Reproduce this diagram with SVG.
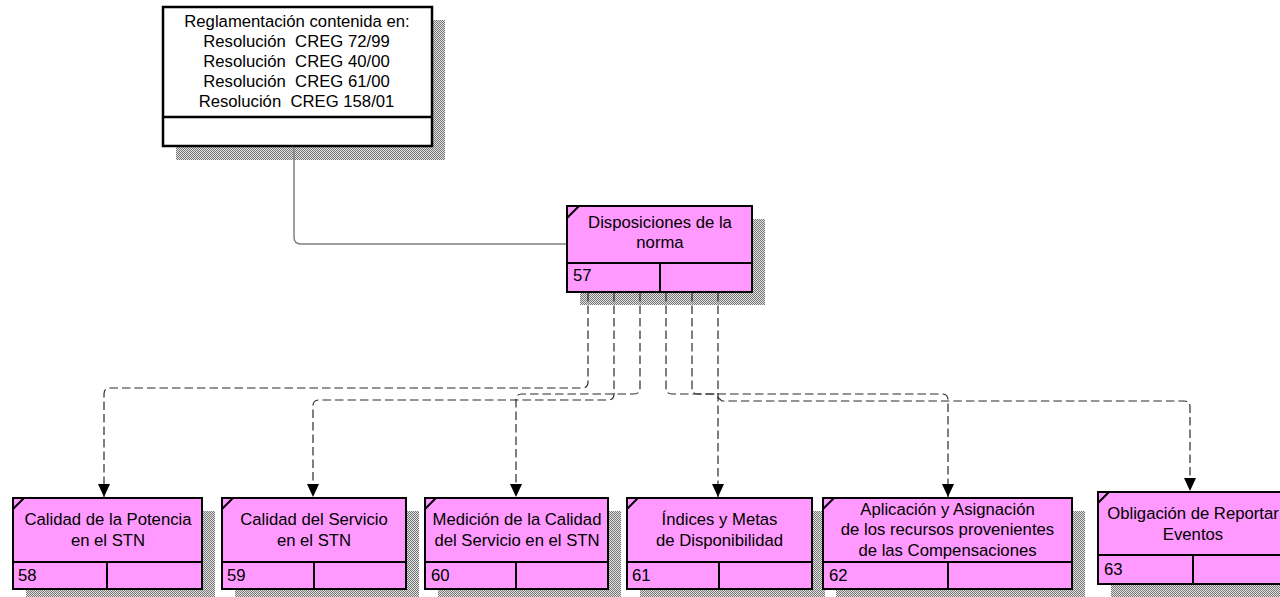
<svg xmlns="http://www.w3.org/2000/svg" width="1280" height="597" viewBox="0 0 1280 597">
<defs>
<pattern id="sh" width="2" height="2" patternUnits="userSpaceOnUse">
<rect width="2" height="2" fill="#e0e0e0"/>
<rect width="1" height="1" fill="#787878"/>
<rect x="1" y="1" width="1" height="1" fill="#787878"/>
</pattern>
<marker id="ah" viewBox="0 0 13 12" markerWidth="13" markerHeight="12" refX="13" refY="6" orient="auto" markerUnits="userSpaceOnUse">
<path d="M0,0 L13,6 L0,12 z" fill="#000"/>
</marker>
</defs>
<style>
.shadow{fill:url(#sh)}
.box{fill:#FF99FF;stroke:#000;stroke-width:2}
.wbox{fill:#fff;stroke:#000;stroke-width:2.5}
.ln{stroke:#000;stroke-width:2;fill:none}
.t{font-family:"Liberation Sans",Arial,sans-serif;font-size:16.7px;fill:#000;text-anchor:middle;white-space:pre}
.n{font-family:"Liberation Sans",Arial,sans-serif;font-size:16.7px;fill:#000}
.dash{fill:none;stroke:#2a2a2a;stroke-width:1.2;stroke-dasharray:8.5 4;marker-end:url(#ah)}
.solid{fill:none;stroke:#808080;stroke-width:1.5}
</style>

<g id="node-reglamentacion">
<rect class="shadow" x="176" y="20" width="269" height="140"/>
<rect class="wbox" x="163" y="7" width="269" height="139"/>
<line class="ln" x1="163" y1="117" x2="432" y2="117" style="stroke-width:2.5"/>
<text class="t" x="297" y="27">Reglamentación contenida en:</text>
<text class="t" x="296.5" y="47">Resolución  CREG 72/99</text>
<text class="t" x="296.5" y="67">Resolución  CREG 40/00</text>
<text class="t" x="296.5" y="87">Resolución  CREG 61/00</text>
<text class="t" x="296.5" y="107">Resolución  CREG 158/01</text>
</g>

<g id="node-57">
<rect class="shadow" x="580" y="219" width="185" height="86"/>
<rect class="box" x="567" y="206" width="185" height="86"/>
<line class="ln" x1="567" y1="263" x2="752" y2="263"/>
<line class="ln" x1="660" y1="263" x2="660" y2="292"/>
<line class="ln" x1="567" y1="218" x2="579" y2="206"/>
<text class="t" x="660" y="228">Disposiciones de la</text>
<text class="t" x="660" y="248">norma</text>
<text class="n" x="573" y="281">57</text>
</g>

<g id="node-58">
<rect class="shadow" x="26" y="511" width="189" height="91"/>
<rect class="box" x="13" y="498" width="189" height="91"/>
<line class="ln" x1="13" y1="562" x2="202" y2="562"/>
<line class="ln" x1="107" y1="562" x2="107" y2="589"/>
<line class="ln" x1="13" y1="509" x2="24" y2="498"/>
<text class="t" x="108" y="525">Calidad de la Potencia</text>
<text class="t" x="108" y="546">en el STN</text>
<text class="n" x="18" y="581">58</text>
</g>

<g id="node-59">
<rect class="shadow" x="235" y="511" width="184" height="91"/>
<rect class="box" x="222" y="498" width="184" height="91"/>
<line class="ln" x1="222" y1="562" x2="406" y2="562"/>
<line class="ln" x1="314" y1="562" x2="314" y2="589"/>
<line class="ln" x1="222" y1="509" x2="233" y2="498"/>
<text class="t" x="314" y="525">Calidad del Servicio</text>
<text class="t" x="314" y="546">en el STN</text>
<text class="n" x="227" y="581">59</text>
</g>

<g id="node-60">
<rect class="shadow" x="438" y="511" width="183" height="91"/>
<rect class="box" x="425" y="498" width="183" height="91"/>
<line class="ln" x1="425" y1="562" x2="608" y2="562"/>
<line class="ln" x1="516" y1="562" x2="516" y2="589"/>
<line class="ln" x1="425" y1="509" x2="436" y2="498"/>
<text class="t" x="517" y="525">Medición de la Calidad</text>
<text class="t" x="517" y="546">del Servicio en el STN</text>
<text class="n" x="431" y="581">60</text>
</g>

<g id="node-61">
<rect class="shadow" x="640" y="511" width="185" height="91"/>
<rect class="box" x="627" y="498" width="185" height="91"/>
<line class="ln" x1="627" y1="562" x2="812" y2="562"/>
<line class="ln" x1="719" y1="562" x2="719" y2="589"/>
<line class="ln" x1="627" y1="509" x2="638" y2="498"/>
<text class="t" x="719.5" y="525">Índices y Metas</text>
<text class="t" x="719.5" y="546">de Disponibilidad</text>
<text class="n" x="632" y="581">61</text>
</g>

<g id="node-62">
<rect class="shadow" x="836" y="511" width="249" height="91"/>
<rect class="box" x="823" y="498" width="249" height="91"/>
<line class="ln" x1="823" y1="562" x2="1072" y2="562"/>
<line class="ln" x1="948" y1="562" x2="948" y2="589"/>
<line class="ln" x1="823" y1="509" x2="834" y2="498"/>
<text class="t" x="947.5" y="515">Aplicación y Asignación</text>
<text class="t" x="947.5" y="535">de los recursos provenientes</text>
<text class="t" x="947.5" y="556">de las Compensaciones</text>
<text class="n" x="829" y="581">62</text>
</g>

<g id="node-63">
<rect class="shadow" x="1111" y="505" width="190" height="92"/>
<rect class="box" x="1098" y="492" width="190" height="92"/>
<line class="ln" x1="1098" y1="555" x2="1288" y2="555"/>
<line class="ln" x1="1193" y1="555" x2="1193" y2="584"/>
<line class="ln" x1="1098" y1="503" x2="1109" y2="492"/>
<text class="t" x="1193" y="519">Obligación de Reportar</text>
<text class="t" x="1193" y="540">Eventos</text>
<text class="n" x="1104" y="575">63</text>
</g>

<g id="connectors">
<path class="solid" d="M294,147 V237 Q294,244 301,244 H566"/>
<path class="dash" d="M588,293 V382 Q588,388 582,388 H110 Q104,388 104,394 V497"/>
<path class="dash" d="M614,293 V394 Q614,400 608,400 H319 Q313,400 313,406 V497"/>
<path class="dash" d="M640,293 V388 Q640,394 634,394 H522 Q516,394 516,400 V497"/>
<path class="dash" d="M718,293 V497"/>
<path class="dash" d="M666,293 V388 Q666,394 672,394 H942 Q948,394 948,400 V497"/>
<path class="dash" d="M692,293 V388 Q692,394 698,394 H714 L722,401 H1184 Q1190,401 1190,407 V491"/>
</g>
</svg>
